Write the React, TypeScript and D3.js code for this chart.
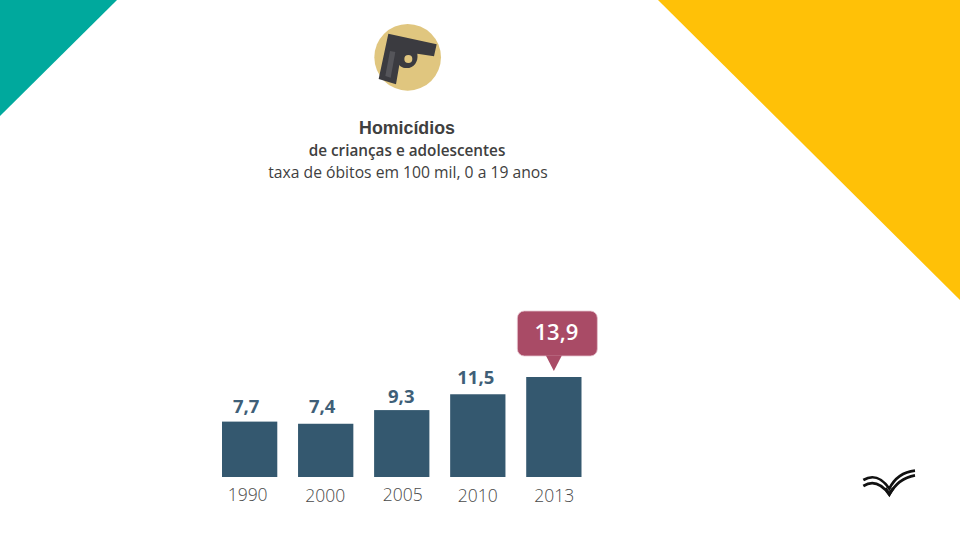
import React from 'react';
import * as d3 from 'd3';

const years = ['1990', '2000', '2005', '2010', '2013'];
const rates = [7.7, 7.4, 9.3, 11.5, 13.9];

// hand placed nudges, the source labels do not sit exactly on the bars
const valueNudgeX = [-3.5, -3.5, -0.5, -2, 0];
const valueNudgeY = [0, -2, 2, -1, 0];
const yearNudgeX = [-2, -0.5, 1, 0, 0.5];
const yearNudgeY = [0, 1, 0, 1, 1];

const fmt = (v: number) => v.toFixed(1).replace('.', ',');

const sans = '"Open Sans", sans-serif';

export default function App() {
  const x = d3.scaleBand<string>().domain(years).range([222, 581.5]).paddingInner(0.273).paddingOuter(0);
  const y = d3.scaleLinear().domain([0, 13.9]).range([477, 377]);
  const last = years.length - 1;
  const lastX = x(years[last])! + x.bandwidth() / 2;

  return (
    <svg width={960} height={540} style={{ position: 'absolute', left: 0, top: 0, background: '#fff' }}>
      <path d="M0,0H117L0,116Z" fill="#00a99d" />
      <path d="M658,0H960V300Z" fill="#ffc107" />

      {/* gun icon */}
      <g transform="translate(360,15) scale(0.3333)">
        <circle cx={143} cy={127} r={100} fill="#e0c67f" />
        <path
          d="M85,56 L230,88 L222,124 L172,116 C176,142 160,162 135,159 C128,158 122,155 118,150 L108,208 L56,192 Z"
          fill="#3b3b40"
        />
        <path d="M90,108 L106,111 L92,188 L76,183 Z" fill="#55555a" />
        <circle cx={145} cy={132} r={12} fill="#e0c67f" />
      </g>

      <g textAnchor="middle">
        <text x={407} y={134} fontFamily='"Liberation Sans", Arial, sans-serif' fontWeight={700} fontSize={17.8} fill="#404040">
          Homicídios
        </text>
        <text x={407} y={156} fontFamily={sans} fontWeight={600} fontSize={15.3} fill="#404040">
          de crianças e adolescentes
        </text>
        <text x={408} y={178} fontFamily={sans} fontSize={15.7} fill="#404040">
          taxa de óbitos em 100 mil, 0 a 19 anos
        </text>
      </g>

      {years.map((yr, i) => (
        <rect key={yr} x={x(yr)} y={y(rates[i])} width={x.bandwidth()} height={y(0) - y(rates[i])} fill="#34586f" />
      ))}

      {years.map((yr, i) => (
        <text
          key={yr}
          x={x(yr)! + x.bandwidth() / 2 + yearNudgeX[i]}
          y={500.5 + yearNudgeY[i]}
          textAnchor="middle"
          fontFamily={sans}
          fontWeight={300}
          fontSize={17.5}
          fill="#4a4a4a"
        >
          {yr}
        </text>
      ))}

      {years.slice(0, last).map((yr, i) => (
        <text
          key={yr}
          x={x(yr)! + x.bandwidth() / 2 + valueNudgeX[i]}
          y={y(rates[i]) - 9 + valueNudgeY[i]}
          textAnchor="middle"
          fontFamily={sans}
          fontWeight={700}
          fontSize={18.5}
          fill="#3f5f78"
        >
          {fmt(rates[i])}
        </text>
      ))}

      {/* callout on the latest year */}
      <g>
        <rect x={lastX - 36.5} y={y(rates[last]) - 66} width={80} height={45} rx={7} fill="#a94b66" stroke="#e6c4cf" strokeWidth={0.8} />
        <path d={`M${lastX - 8},${y(rates[last]) - 21.5}H${lastX + 8}L${lastX},${y(rates[last]) - 6}Z`} fill="#a94b66" />
        <text x={lastX + 2.5} y={y(rates[last]) - 37} textAnchor="middle" fontFamily={sans} fontWeight={600} fontSize={22} fill="#fff">
          {fmt(rates[last])}
        </text>
      </g>

      {/* logo */}
      <g fill="none" stroke="#111" transform="translate(850,460) scale(0.3333)">
        <path d="M40,60 C68,44 92,50 118,86 C135,52 160,36 195,32" strokeWidth={8} />
        <path d="M40,78 C66,62 92,68 118,104 C135,72 160,52 195,46" strokeWidth={8} />
        <path d="M106,84 L118,102 L130,84" strokeWidth={9} />
      </g>
    </svg>
  );
}
